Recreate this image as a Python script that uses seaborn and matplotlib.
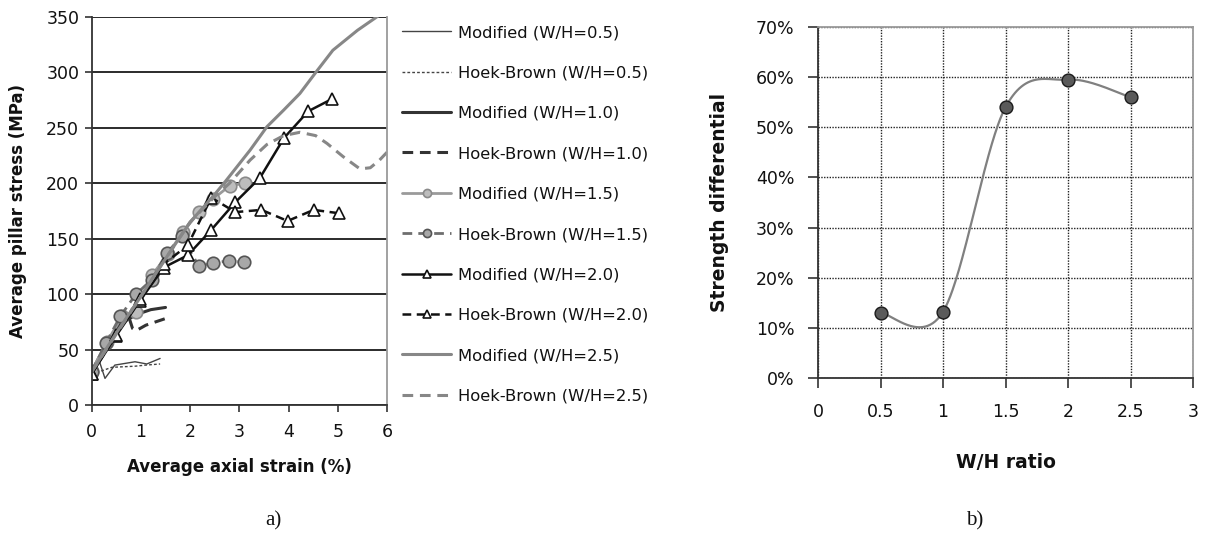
import numpy as np
import pandas as pd
import matplotlib
matplotlib.use("Agg")
import matplotlib.pyplot as plt
import seaborn as sns
from matplotlib.ticker import FuncFormatter

# ---------------- data ----------------
# panel a) average axial strain (%) vs average pillar stress (MPa)
strain_mod05 = [0.0, 0.13, 0.27, 0.47, 0.88, 1.12, 1.39]
stress_mod05 = [30, 43, 24, 36, 39, 37, 42]
strain_hb05 = [0.0, 0.15, 0.41, 0.88, 1.10, 1.39]
stress_hb05 = [29, 30, 34, 35, 36, 37]

strain_mod10 = [0.0, 0.3, 0.6, 0.85, 1.0, 1.2, 1.5]
stress_mod10 = [30, 55, 74, 80, 83, 86, 88]
strain_hb10 = [0.0, 0.3, 0.6, 0.75, 0.83, 0.9, 1.1, 1.3, 1.5]
stress_hb10 = [30, 55, 74, 80, 69, 67, 72, 75, 78]

strain_mod15 = [0.0, 0.31, 0.62, 0.91, 1.22, 1.55, 1.85, 2.18, 2.47, 2.81, 3.12]
stress_mod15 = [31, 57, 80, 84, 117, 136, 156, 174, 186, 198, 200]
strain_hb15 = [0.0, 0.29, 0.58, 0.90, 1.22, 1.52, 1.83, 2.18, 2.46, 2.78, 3.10]
stress_hb15 = [30, 56, 80, 100, 113, 137, 152, 125, 128, 130, 129]

strain_mod20 = [0.0, 0.49, 0.98, 1.46, 1.95, 2.43, 2.92, 3.42, 3.91, 4.40, 4.88]
stress_mod20 = [28, 62, 94, 124, 135, 158, 183, 205, 241, 265, 276]
strain_hb20 = [0.0, 0.49, 0.98, 1.46, 1.95, 2.43, 2.92, 3.45, 3.98, 4.51, 5.02]
stress_hb20 = [28, 63, 96, 127, 144, 187, 174, 176, 166, 176, 173]

strain_mod25 = [0.0, 0.5, 1.0, 1.5, 2.0, 2.5, 2.74, 3.22, 3.56, 3.9, 4.23, 4.57, 4.9, 5.4, 5.79, 6.0]
stress_mod25 = [30, 65, 98, 132, 165, 190, 203, 230, 251, 266, 281, 301, 320, 338, 350, 356]
strain_hb25 = [0.0, 0.5, 1.0, 1.5, 2.0, 2.5, 2.8, 3.22, 3.56, 3.9, 4.23, 4.55, 4.78, 5.11, 5.45, 5.66, 5.85, 6.0]
stress_hb25 = [30, 64, 98, 132, 165, 188, 200, 221, 235, 243, 246, 243, 236, 224, 213, 214, 221, 228]

# panel b) strength differential vs W/H ratio
wh_ratio = [0.5, 1.0, 1.5, 2.0, 2.5]
strength_diff = [13.0, 13.2, 54.0, 59.5, 56.0]  # percent

legend_labels = [
    "Modified (W/H=0.5)", "Hoek-Brown (W/H=0.5)",
    "Modified (W/H=1.0)", "Hoek-Brown (W/H=1.0)",
    "Modified (W/H=1.5)", "Hoek-Brown (W/H=1.5)",
    "Modified (W/H=2.0)", "Hoek-Brown (W/H=2.0)",
    "Modified (W/H=2.5)", "Hoek-Brown (W/H=2.5)",
]

# ---------------- styling ----------------
sns.set_theme(style="white")
plt.rcParams["font.family"] = ["DejaVu Sans"]
plt.rcParams["axes.unicode_minus"] = False
plt.rcParams["text.color"] = "#111111"
plt.rcParams["axes.labelcolor"] = "#111111"
plt.rcParams["xtick.color"] = "#111111"
plt.rcParams["ytick.color"] = "#111111"

fig = plt.figure(figsize=(12.14, 5.46), dpi=100)
W, H = 1214, 546
def axrect(x0, y0, x1, y1):
    return [x0 / W, 1 - y1 / H, (x1 - x0) / W, (y1 - y0) / H]

ax1 = fig.add_axes(axrect(91.7, 17, 387, 405))
ax2 = fig.add_axes(axrect(818, 27, 1193, 378))

series = [
    (strain_mod05, stress_mod05, dict(color="#444444", lw=1.0, ls="-")),
    (strain_hb05, stress_hb05, dict(color="#444444", lw=1.0, ls=(0, (2, 1.5)))),
    (strain_mod10, stress_mod10, dict(color="#333333", lw=2.2, ls="-")),
    (strain_hb10, stress_hb10, dict(color="#333333", lw=2.2, ls=(0, (3.5, 2.2)))),
    (strain_mod15, stress_mod15, dict(color="#9a9a9a", lw=2.0, ls="-", marker="o",
                                      ms=9, mfc="#bdbdbd", mec="#8a8a8a", mew=1.2)),
    (strain_hb15, stress_hb15, dict(color="#6e6e6e", lw=2.0, ls=(0, (3.5, 2.2)), marker="o",
                                    ms=9, mfc="#a8a8a8", mec="#555555", mew=1.2)),
    (strain_mod20, stress_mod20, dict(color="#111111", lw=1.8, ls="-", marker="^",
                                      ms=9, mfc="white", mec="#111111", mew=1.2)),
    (strain_hb20, stress_hb20, dict(color="#111111", lw=1.8, ls=(0, (3.5, 2.2)), marker="^",
                                    ms=9, mfc="white", mec="#111111", mew=1.2)),
    (strain_mod25, stress_mod25, dict(color="#878787", lw=2.2, ls="-")),
    (strain_hb25, stress_hb25, dict(color="#878787", lw=2.2, ls=(0, (3.5, 2.2)))),
]

for (xs, ys, st), lab in zip(series, legend_labels):
    st = dict(st)
    ls = st.pop("ls")
    sns.lineplot(x=xs, y=ys, ax=ax1, sort=False, estimator=None, label=lab,
                 linestyle=ls, **st)

ax1.set_xlim(0, 6)
ax1.set_ylim(0, 350)
ax1.set_xticks(range(0, 7))
ax1.set_yticks(range(0, 351, 50))
ax1.yaxis.grid(True, color="#1a1a1a", lw=1.3, ls="-")
ax1.xaxis.grid(False)
ax1.set_axisbelow(True)
for s in ["left", "bottom"]:
    ax1.spines[s].set_color("#333333")
    ax1.spines[s].set_linewidth(1.3)
ax1.spines["right"].set_color("#9a9a9a")
ax1.spines["right"].set_linewidth(1.3)
ax1.spines["top"].set_visible(False)
ax1.tick_params(axis="both", which="major", direction="out", length=5, width=1.2,
                color="#333333", labelsize=12.5, bottom=True, left=True)
ax1.tick_params(axis="x", pad=8)
ax1.tick_params(axis="y", pad=4)
ax1.set_xlabel("Average axial strain (%)", fontsize=12, fontweight="bold")
ax1.set_ylabel("Average pillar stress (MPa)", fontsize=12, fontweight="bold")
ax1.xaxis.set_label_coords(0.5, -0.137)
ax1.yaxis.set_label_coords(-0.219, 0.5)

h, l = ax1.get_legend_handles_labels()
ax1.legend_.remove()
fig.legend(h, l, loc="upper left", bbox_to_anchor=(402 / W, 1 - 25 / H),
           frameon=False, fontsize=11.8, handlelength=3.0, handletextpad=0.4,
           labelspacing=1.55, numpoints=1, markerscale=0.65,
           borderaxespad=0, borderpad=0)

# ---------------- panel b ----------------
def catmull_rom(xp, yp, n=60):
    P = np.column_stack([xp, yp]).astype(float)
    P = np.vstack([P[0], P, P[-1]])
    out = []
    t = np.linspace(0, 1, n)
    for i in range(1, len(P) - 2):
        p0, p1, p2, p3 = P[i - 1], P[i], P[i + 1], P[i + 2]
        m1 = (p2 - p0) / 2.0
        m2 = (p3 - p1) / 2.0
        h00 = 2 * t**3 - 3 * t**2 + 1
        h10 = t**3 - 2 * t**2 + t
        h01 = -2 * t**3 + 3 * t**2
        h11 = t**3 - t**2
        seg = (np.outer(h00, p1) + np.outer(h10, m1) + np.outer(h01, p2) + np.outer(h11, m2))
        out.append(seg if i == 1 else seg[1:])
    return np.vstack(out)

curve = catmull_rom(wh_ratio, strength_diff)
sns.lineplot(x=curve[:, 0], y=curve[:, 1], ax=ax2, sort=False, estimator=None,
             color="#808080", lw=1.6)
sns.scatterplot(x=wh_ratio, y=strength_diff, ax=ax2, s=85, color="#5a5a5a",
                edgecolor="#1a1a1a", linewidth=1.0, zorder=5)

ax2.set_xlim(0, 3)
ax2.set_ylim(0, 70)
ax2.set_xticks([0, 0.5, 1, 1.5, 2, 2.5, 3])
ax2.set_yticks(range(0, 71, 10))
ax2.xaxis.set_major_formatter(FuncFormatter(lambda v, p: f"{v:g}"))
ax2.yaxis.set_major_formatter(FuncFormatter(lambda v, p: f"{v:.0f}%"))
ax2.grid(True, color="#222222", lw=1.0, ls=(0, (1, 1)))
ax2.set_axisbelow(True)
for s in ["left", "bottom"]:
    ax2.spines[s].set_color("#333333")
    ax2.spines[s].set_linewidth(1.3)
for s in ["right", "top"]:
    ax2.spines[s].set_color("#9a9a9a")
    ax2.spines[s].set_linewidth(1.3)
ax2.tick_params(axis="both", which="major", direction="out", length=7, width=1.2,
                color="#333333", labelsize=12.5, bottom=True, left=True)
ax2.tick_params(axis="x", pad=11)
ax2.tick_params(axis="y", pad=10)
ax2.set_xlabel("W/H ratio", fontsize=13.5, fontweight="bold")
ax2.set_ylabel("Strength differential", fontsize=13.5, fontweight="bold")
ax2.xaxis.set_label_coords(0.5, -0.214)
ax2.yaxis.set_label_coords(-0.237, 0.5)

# panel captions
fig.text(273 / W, 1 - 521 / H, "a)", ha="center", va="center", fontsize=15,
         family=["Liberation Serif", "DejaVu Serif"])
fig.text(975 / W, 1 - 521 / H, "b)", ha="center", va="center", fontsize=15,
         family=["Liberation Serif", "DejaVu Serif"])

fig.savefig("out.png", dpi=100)
